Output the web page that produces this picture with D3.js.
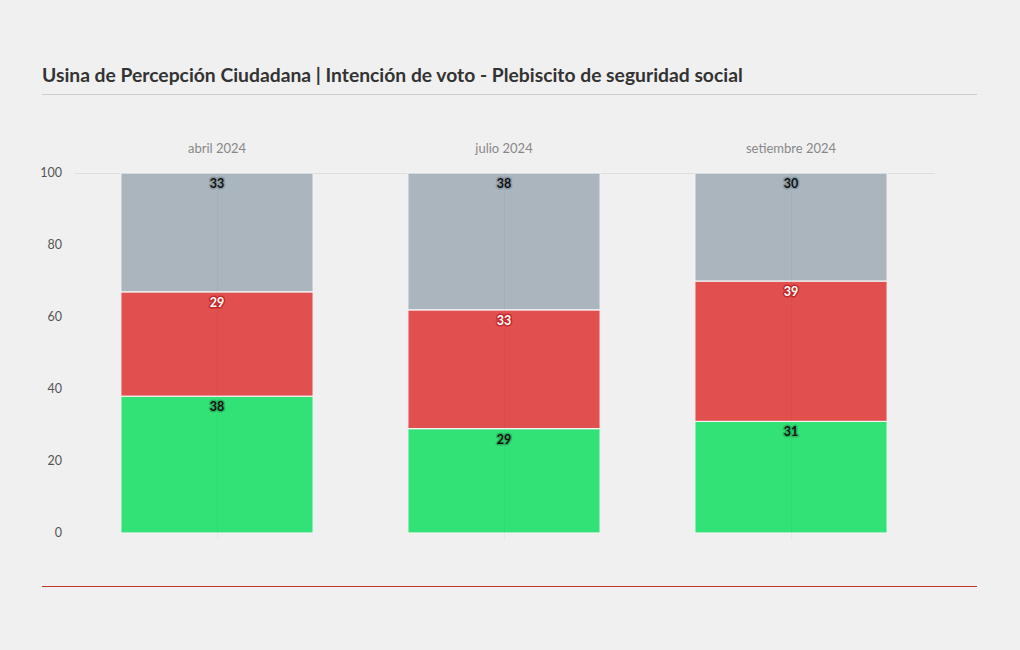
<!DOCTYPE html>
<html><head><meta charset="utf-8">
<script src="https://cdn.jsdelivr.net/npm/d3@7"></script>
<style>
body{margin:0;background:#f0f0f0;font-family:Lato,"Noto Sans",sans-serif;}
</style></head>
<body><svg id="c" width="1020" height="650"></svg>
<script>
const categories = ["abril 2024","julio 2024","setiembre 2024"];
const seriesNames = ["Sí","No","No sabe"];
const siValues = [38,29,31];
const noValues = [29,33,39];
const nsValues = [33,38,30];
const yTicks = [0,20,40,60,80,100];
const colors = ["#33e277","#e24f4f","#aab5bd"];
const labelFill = ["#111","#fff","#111"];
const labelHalo = ["#27b85f","#c42a2a","#8d99a3"];

const svg = d3.select("#c");
svg.append("rect").attr("width",1020).attr("height",650).attr("fill","#f0f0f0");

svg.append("text").attr("x",42).attr("y",82).attr("font-size",19.3).attr("font-weight",700)
  .attr("fill","#333").text("Usina de Percepción Ciudadana | Intención de voto - Plebiscito de seguridad social");
svg.append("line").attr("x1",42).attr("x2",977).attr("y1",94.5).attr("y2",94.5).attr("stroke","#cccccc");
svg.append("line").attr("x1",42).attr("x2",977).attr("y1",586.5).attr("y2",586.5).attr("stroke","#c0392b");

const x = d3.scaleBand().domain(categories).range([73.5,934.5]).paddingInner(0.33).paddingOuter(0.165);
const y = d3.scaleLinear().domain([0,100]).range([533,173]);

const rows = categories.map((c,i)=>({cat:c,"Sí":siValues[i],"No":noValues[i],"No sabe":nsValues[i]}));
const stack = d3.stack().keys(seriesNames)(rows);

const g = svg.append("g");
g.selectAll("line.grid").data([100]).join("line")
  .attr("x1",75).attr("x2",935).attr("y1",d=>y(d)+0.5).attr("y2",d=>y(d)+0.5).attr("stroke","#dddddd");

g.selectAll("text.yt").data(yTicks).join("text").attr("class","yt")
  .attr("x",62).attr("y",d=>y(d)).attr("dy","0.35em").attr("text-anchor","end")
  .attr("font-size",12.5).attr("fill","#555").text(d=>d);

g.selectAll("text.mt").data(categories).join("text")
  .attr("x",d=>x(d)+x.bandwidth()/2).attr("y",153).attr("text-anchor","middle")
  .attr("font-size",13).attr("fill","#888").text(d=>d);

stack.forEach((s,si)=>{
  svg.append("g").selectAll("rect").data(s).join("rect")
    .attr("x",d=>x(d.data.cat)).attr("width",x.bandwidth())
    .attr("y",d=>y(d[1])).attr("height",d=>y(d[0])-y(d[1]))
    .attr("fill",colors[si]).attr("stroke","#f4f4f4").attr("stroke-width",1.2);
});

svg.append("g").selectAll("line").data(categories).join("line")
  .attr("x1",d=>Math.round(x(d)+x.bandwidth()/2)+0.5).attr("x2",d=>Math.round(x(d)+x.bandwidth()/2)+0.5)
  .attr("y1",173).attr("y2",540).attr("stroke","#000").attr("stroke-opacity",0.03);

stack.forEach((s,si)=>{
  const lg = svg.append("g");
  lg.selectAll("text").data(s).join("text")
    .attr("x",d=>x(d.data.cat)+x.bandwidth()/2).attr("y",d=>y(d[1])+15)
    .attr("text-anchor","middle").attr("font-size",12.5).attr("font-weight",700)
    .attr("fill",labelFill[si]).attr("stroke",labelHalo[si]).attr("stroke-width",3)
    .attr("stroke-linejoin","round").attr("paint-order","stroke")
    .text(d=>d[1]-d[0]);
});
</script></body></html>
